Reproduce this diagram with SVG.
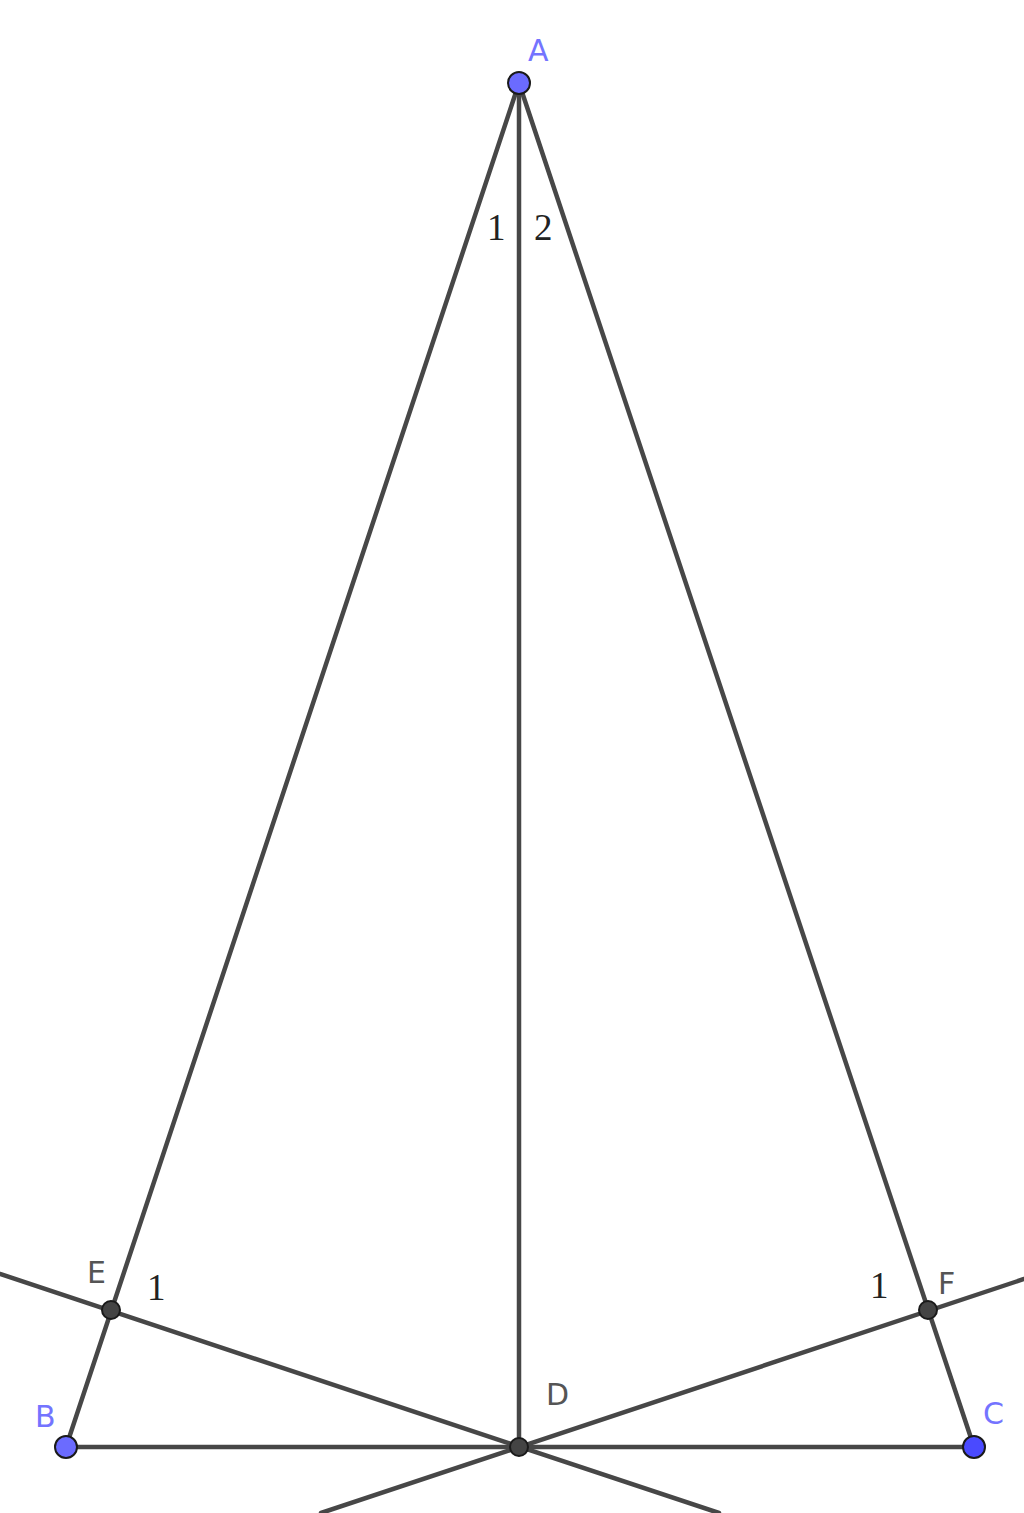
<svg xmlns="http://www.w3.org/2000/svg" width="1024" height="1513" viewBox="0 0 1024 1513">
<style>
.ln{stroke:#474747;stroke-width:4.5;fill:none;stroke-linecap:round}
.pt{stroke:#1a1a1a;stroke-width:2}
.blue{fill:#6b6bff}
.dark{fill:#444444}
.lbl{font-family:"DejaVu Sans","Liberation Sans",sans-serif;font-size:30px}
.lb{fill:#7474ff}
.lg{fill:#555555}
.num{font-family:"Liberation Serif","DejaVu Serif",serif;font-size:37px;fill:#222222}
</style>
<rect width="1024" height="1513" fill="#ffffff"/>
<g id="connectors">
<line class="ln" x1="519" y1="83" x2="66" y2="1447"/>
<line class="ln" x1="519" y1="83" x2="974" y2="1447"/>
<line class="ln" x1="519" y1="83" x2="519" y2="1447"/>
<line class="ln" x1="66" y1="1447" x2="974" y2="1447"/>
<line class="ln" x1="0" y1="1274" x2="719" y2="1513"/>
<line class="ln" x1="1024" y1="1279" x2="321" y2="1513"/>
</g>
<g id="node-A"><circle class="pt blue" cx="519" cy="83" r="11"/><text class="lbl lb" x="528" y="61">A</text></g>
<g id="node-B"><circle class="pt blue" cx="66" cy="1447" r="11"/><text class="lbl lb" x="35" y="1427">B</text></g>
<g id="node-C"><circle class="pt" fill="#4a4aff" cx="974" cy="1447" r="11"/><text class="lbl lb" x="983" y="1424">C</text></g>
<g id="node-D"><circle class="pt dark" cx="519" cy="1447" r="9"/><text class="lbl lg" x="546" y="1405">D</text></g>
<g id="node-E"><circle class="pt dark" cx="111" cy="1310" r="9"/><text class="lbl lg" x="87" y="1283">E</text></g>
<g id="node-F"><circle class="pt dark" cx="928" cy="1310" r="9"/><text class="lbl lg" x="938" y="1294">F</text></g>
<g id="angles">
<text class="num" x="487" y="240">1</text>
<text class="num" x="534" y="240">2</text>
<text class="num" x="147" y="1300">1</text>
<text class="num" x="870" y="1298">1</text>
</g>
</svg>
